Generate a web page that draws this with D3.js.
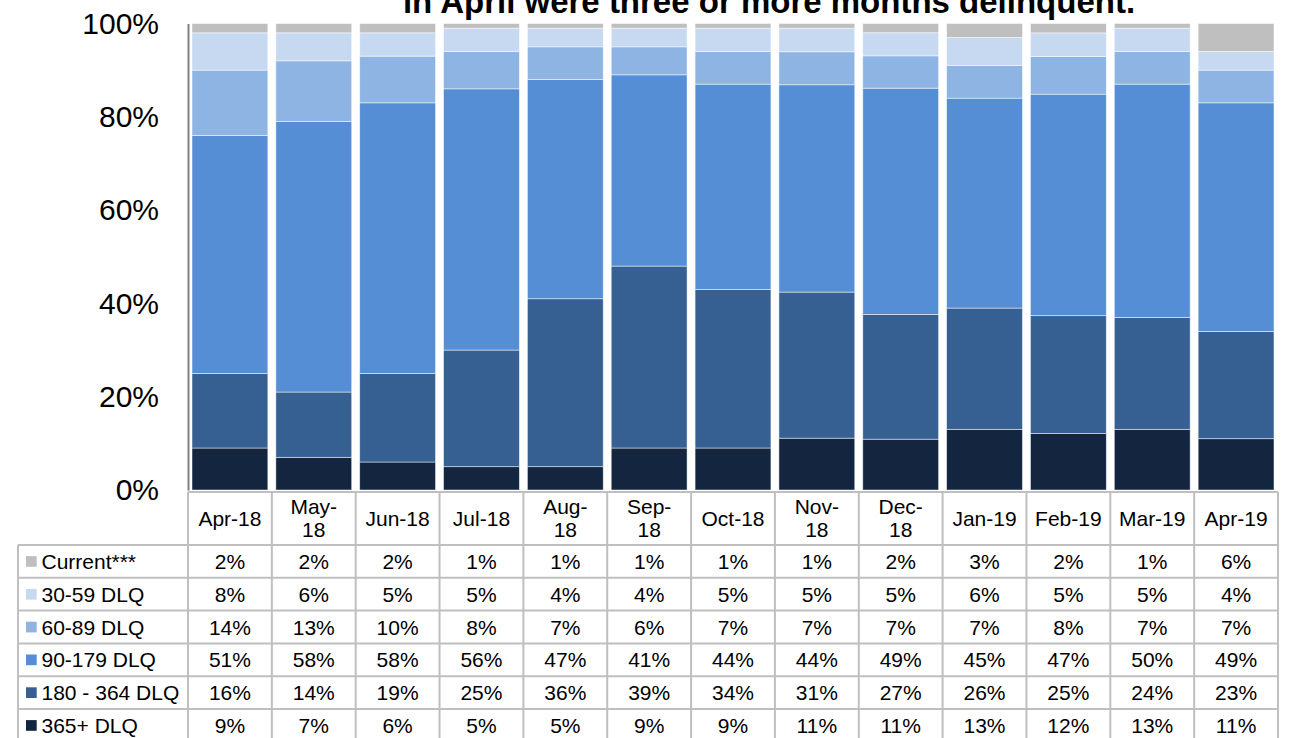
<!DOCTYPE html>
<html>
<head>
<meta charset="utf-8">
<script src="https://cdn.jsdelivr.net/npm/d3@7"></script>
<style>
  html, body { margin: 0; padding: 0; background: #fff; }
  svg { display: block; font-family: Arial, "Liberation Sans", sans-serif; }
</style>
</head>
<body>
<svg id="chart" width="1296" height="738"></svg>
<script>
// ---- data ----
const months = ["Apr-18","May-18","Jun-18","Jul-18","Aug-18","Sep-18","Oct-18","Nov-18","Dec-18","Jan-19","Feb-19","Mar-19","Apr-19"];
const headerLines = [["Apr-18"],["May-","18"],["Jun-18"],["Jul-18"],["Aug-","18"],["Sep-","18"],["Oct-18"],["Nov-","18"],["Dec-","18"],["Jan-19"],["Feb-19"],["Mar-19"],["Apr-19"]];
// table order (top to bottom)
const seriesNames = ["Current***","30-59 DLQ","60-89 DLQ","90-179 DLQ","180 - 364 DLQ","365+ DLQ"];
const current   = [2,2,2,1,1,1,1,1,2,3,2,1,6];
const dlq30     = [8,6,5,5,4,4,5,5,5,6,5,5,4];
const dlq60     = [14,13,10,8,7,6,7,7,7,7,8,7,7];
const dlq90     = [51,58,58,56,47,41,44,44,49,45,47,50,49];
const dlq180    = [16,14,19,25,36,39,34,31,27,26,25,24,23];
const dlq365    = [9,7,6,5,5,9,9,11,11,13,12,13,11];
const yTicks    = [0,0.2,0.4,0.6,0.8,1.0];
const titleText = "in April were three or more months delinquent.";

const seriesValues = [current, dlq30, dlq60, dlq90, dlq180, dlq365];
const colors = ["#BFBFBF","#C6D9F1","#8DB4E2","#558ED5","#366092","#13253F"];

// ---- layout ----
const svg = d3.select("#chart");
const plotLeft = 188, plotRight = 1278, plotTop = 23.5, plotBase = 490;
const tableLeft = 18;
const headerTop = 492, headerBottom = 545, rowH = 32.8;
const tableFont = 21;

const x = d3.scaleBand().domain(months).range([plotLeft, plotRight]).padding(0);
const y = d3.scaleLinear().domain([0, 1]).range([plotBase, plotTop]);

// build rows for stacking
const rows = months.map((m, i) => {
  const o = { month: m };
  seriesNames.forEach((s, j) => o[s] = seriesValues[j][i]);
  return o;
});
// stack from bottom: 365+ first
const stackKeys = seriesNames.slice().reverse();
const stacker = d3.stack().keys(stackKeys).offset(d3.stackOffsetExpand);
const stacked = stacker(rows);
const colorOf = d3.scaleOrdinal().domain(seriesNames).range(colors);

// title (partly above the top edge, as in the reference)
svg.append("text")
  .attr("x", 769).attr("y", 13)
  .attr("text-anchor", "middle")
  .attr("font-weight", "bold")
  .attr("font-size", 33)
  .attr("fill", "#000")
  .text(titleText);

// bars
const inset = 4;
svg.append("g").selectAll("g")
  .data(stacked)
  .join("g")
  .attr("fill", d => colorOf(d.key))
  .selectAll("rect")
  .data(d => d)
  .join("rect")
  .attr("x", d => x(d.data.month) + inset)
  .attr("width", x.bandwidth() - 2 * inset)
  .attr("y", d => y(d[1]))
  .attr("height", d => y(d[0]) - y(d[1]))
  .attr("stroke", "#ffffff")
  .attr("stroke-opacity", 0.6)
  .attr("stroke-width", 0.8);

// y axis
const yAxis = d3.axisLeft(y).tickValues(yTicks).tickSize(0).tickPadding(29)
  .tickFormat(d3.format(".0%"));
const gy = svg.append("g").attr("transform", `translate(${plotLeft},0)`).call(yAxis);
gy.select(".domain").attr("stroke", "#808080").attr("stroke-width", 2);
gy.selectAll("text").attr("font-size", 30).attr("fill", "#000")
  .attr("font-family", "Arial, 'Liberation Sans', sans-serif");

// ---- table ----
const gridColor = "#BFBFBF";
const tbl = svg.append("g");
const tableBottom = headerBottom + rowH * seriesNames.length;

// header cells
tbl.selectAll("text.hdr")
  .data(months)
  .join("text")
  .attr("class", "hdr")
  .attr("text-anchor", "middle")
  .attr("font-size", tableFont)
  .attr("fill", "#000")
  .each(function(d, i) {
    const lines = headerLines[i];
    const cx = x(d) + x.bandwidth() / 2;
    const t = d3.select(this);
    if (lines.length === 1) {
      t.append("tspan").attr("x", cx).attr("y", headerTop + 34).text(lines[0]);
    } else {
      t.append("tspan").attr("x", cx).attr("y", headerTop + 21.5).text(lines[0]);
      t.append("tspan").attr("x", cx).attr("y", headerTop + 45).text(lines[1]);
    }
  });

// value cells
seriesNames.forEach((s, j) => {
  const cy = headerBottom + rowH * j + rowH / 2 + 7.5;
  tbl.append("g").selectAll("text")
    .data(seriesValues[j])
    .join("text")
    .attr("x", (v, i) => x(months[i]) + x.bandwidth() / 2)
    .attr("y", cy)
    .attr("text-anchor", "middle")
    .attr("font-size", tableFont)
    .attr("fill", "#000")
    .text(v => v + "%");
  // legend key
  tbl.append("rect")
    .attr("x", 26).attr("y", headerBottom + rowH * j + rowH / 2 - 5.3)
    .attr("width", 10.7).attr("height", 10.7)
    .attr("fill", colors[j]);
  tbl.append("text")
    .attr("x", 41.5).attr("y", cy)
    .attr("font-size", tableFont)
    .attr("fill", "#000")
    .text(s);
});

// grid lines
const gridLines = [];
gridLines.push([plotLeft, headerTop, plotRight, headerTop]);
for (let r = 0; r <= seriesNames.length; r++) {
  const yy = headerBottom + rowH * r;
  gridLines.push([tableLeft, yy, plotRight, yy]);
}
months.forEach(m => gridLines.push([x(m), headerTop, x(m), tableBottom]));
gridLines.push([plotRight, headerTop, plotRight, tableBottom]);
gridLines.push([tableLeft, headerBottom, tableLeft, tableBottom]);

tbl.append("g").selectAll("line")
  .data(gridLines)
  .join("line")
  .attr("x1", d => d[0]).attr("y1", d => d[1])
  .attr("x2", d => d[2]).attr("y2", d => d[3])
  .attr("stroke", gridColor)
  .attr("stroke-width", 2);
</script>
</body>
</html>
